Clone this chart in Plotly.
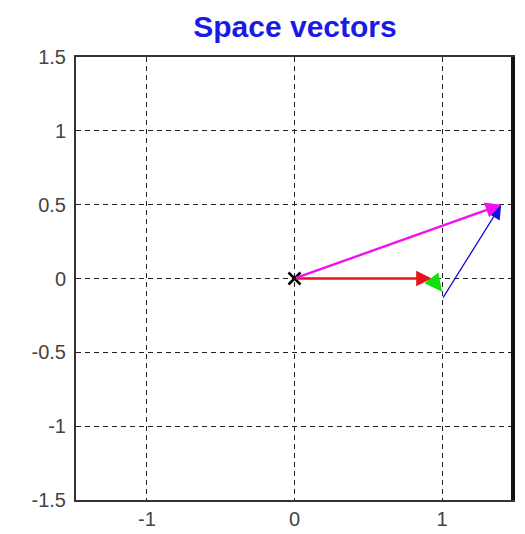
import plotly.graph_objects as go

# Vector data (start x, start y, end x, end y)
vec_names = ["red", "green", "blue", "magenta"]
vec_x0 = [0.0, 0.93, 1.0, 0.0]
vec_y0 = [0.0, 0.0, -0.14, 0.0]
vec_x1 = [0.93, 1.0, 1.4, 1.4]
vec_y1 = [0.0, -0.09, 0.5, 0.5]
vec_colors = ["#e8141c", "#10e010", "#1010e0", "#f010f0"]
vec_widths = [2.4, 3.5, 1.3, 2.4]
vec_headsize = [1.3, 1.0, 2.2, 1.3]

xticks = [-1, 0, 1]
yticks = [-1.5, -1, -0.5, 0, 0.5, 1, 1.5]
ytick_text = ["-1.5", "-1", "-0.5", "0", "0.5", "1", "1.5"]

fig = go.Figure()

fig.add_trace(go.Scatter(x=[0], y=[0], mode="markers",
                         marker=dict(symbol="x-thin", size=12, line=dict(color="black", width=2.5)),
                         showlegend=False, hoverinfo="skip"))

for i in range(len(vec_names)):
    fig.add_annotation(x=vec_x1[i], y=vec_y1[i], ax=vec_x0[i], ay=vec_y0[i],
                       xref="x", yref="y", axref="x", ayref="y",
                       showarrow=True, arrowhead=2, arrowsize=vec_headsize[i],
                       arrowwidth=vec_widths[i], arrowcolor=vec_colors[i], text="")

# thick right frame edge
fig.add_shape(type="line", xref="paper", yref="paper", x0=1, x1=1, y0=0, y1=1,
              line=dict(color="#111111", width=4))

fig.update_layout(
    width=517, height=526,
    margin=dict(l=68, r=12, t=49, b=34),
    paper_bgcolor="white", plot_bgcolor="white",
    title=dict(text="<b>Space vectors</b>", x=(295 - 8) / 517, xanchor="center", xref="container",
               y=1 - 18 / 526, yanchor="middle", yref="container",
               font=dict(family="Arial, Liberation Sans", size=30, color="#1a1ae6")),
    font=dict(family="Arial, Liberation Sans", size=20, color="#444444"),
)
fig.update_xaxes(range=[-1.48, 1.48], tickvals=xticks, ticktext=["-1", "0", "1"],
                 showgrid=True, gridcolor="#222222", griddash="5px,4px", gridwidth=1.2,
                 showline=True, linecolor="#333333", linewidth=2, mirror=True,
                 zeroline=False, ticks="", ticklen=0, automargin=False)
fig.update_yaxes(range=[-1.5, 1.5], tickvals=yticks, ticktext=ytick_text,
                 showgrid=True, gridcolor="#222222", griddash="5px,4px", gridwidth=1.2,
                 showline=True, linecolor="#333333", linewidth=2, mirror=True,
                 zeroline=False, ticks="", automargin=False, ticklabelstandoff=4)

fig.write_html("out.html")
